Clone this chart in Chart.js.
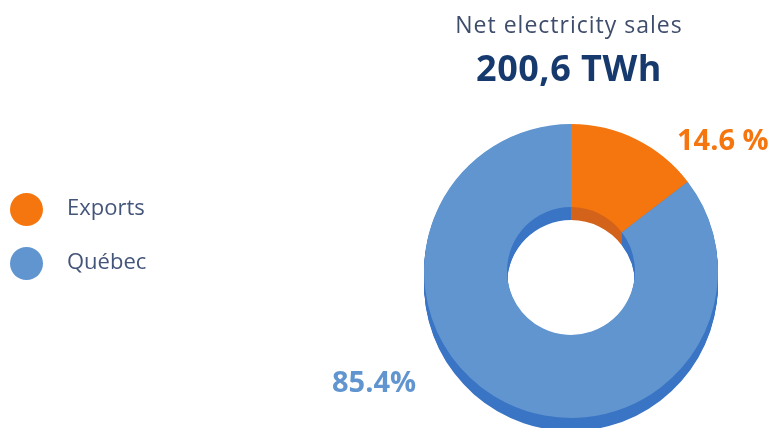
<!DOCTYPE html>
<html>
<head>
<meta charset="utf-8">
<script src="https://cdn.jsdelivr.net/npm/chart.js@4.4.1/dist/chart.umd.min.js"></script>
<style>
  html, body { margin: 0; padding: 0; background: #fff; }
  body { width: 771px; height: 428px; position: relative; overflow: hidden; font-family: 'Open Sans', sans-serif; }
  #sales { position: absolute; left: 0; top: 0; }
  .title { position: absolute; left: 369px; width: 400px; text-align: center; line-height: 1; white-space: nowrap; }
  #t1 { top: 13px; font-size: 23px; color: #3e4d6b; letter-spacing: 1px; }
  #t2 { top: 50px; font-size: 36px; font-weight: 700; color: #173a6e; letter-spacing: 0.5px; }
  .leg { position: absolute; left: 10px; height: 34px; }
  .leg i { position: absolute; left: 0; top: 0; width: 33px; height: 33px; border-radius: 50%; }
  .leg span { position: absolute; left: 57px; top: 2px; font-size: 22px; line-height: 1; color: #44557a; white-space: nowrap; }
</style>
</head>
<body>
<canvas id="sales" width="771" height="428"></canvas>
<div class="title" id="t1"></div>
<div class="title" id="t2"></div>
<div id="legend"></div>
<script>
// net electricity sales split
var titleText = 'Net electricity sales';
var totalText = '200,6 TWh';
var categories = ['Exports', 'Québec'];
var shares = [14.6, 85.4];
var pctSuffix = [' %', '%'];

var faceColors = ['#f5760f', '#6095cf'];
var sideColors = ['#d3631a', '#3a74c4'];

document.getElementById('t1').textContent = titleText;
document.getElementById('t2').textContent = totalText;

// legend, stacked on the left
var legendTops = [193, 247];
var legend = document.getElementById('legend');
categories.forEach(function (name, i) {
  var row = document.createElement('div');
  row.className = 'leg';
  row.style.top = legendTops[i] + 'px';
  row.innerHTML = '<i style="background:' + faceColors[i] + '"></i><span></span>';
  row.querySelector('span').textContent = name;
  legend.appendChild(row);
});

// fake 3D: repeat each arc a few px lower in a darker shade before the face is drawn
var extrude = {
  id: 'extrude',
  beforeDatasetsDraw: function (chart, args, opts) {
    var ctx = chart.ctx;
    var arcs = chart.getDatasetMeta(0).data;
    ctx.save();
    arcs.forEach(function (arc, i) {
      var p = arc.getProps(['x', 'y', 'startAngle', 'endAngle', 'innerRadius', 'outerRadius'], true);
      ctx.fillStyle = sideColors[i];
      for (var d = 1; d <= opts.depth; d++) {
        ctx.beginPath();
        ctx.arc(p.x, p.y + d, p.outerRadius, p.startAngle, p.endAngle);
        ctx.arc(p.x, p.y + d, p.innerRadius, p.endAngle, p.startAngle, true);
        ctx.closePath();
        ctx.fill();
      }
    });
    ctx.restore();
  }
};

// percentage labels, placed relative to the doughnut centre
var pctLabels = {
  id: 'pctLabels',
  afterDatasetsDraw: function (chart, args, opts) {
    var ctx = chart.ctx;
    var arcs = chart.getDatasetMeta(0).data;
    ctx.save();
    ctx.font = '700 ' + opts.size + 'px "Open Sans", sans-serif';
    ctx.textBaseline = 'alphabetic';
    ctx.textAlign = 'left';
    arcs.forEach(function (arc, i) {
      var p = arc.getProps(['x', 'y'], true);
      var o = opts.offsets[i];
      ctx.fillStyle = faceColors[i];
      ctx.fillText(shares[i].toFixed(1) + pctSuffix[i], p.x + o[0], p.y + o[1]);
    });
    ctx.restore();
  }
};

new Chart(document.getElementById('sales'), {
  type: 'doughnut',
  data: {
    labels: categories,
    datasets: [{ data: shares, backgroundColor: faceColors, borderWidth: 0, hoverOffset: 0 }]
  },
  options: {
    responsive: false,
    animation: false,
    events: [],
    cutout: '43.5%',
    layout: { padding: { left: 371, top: 124, right: 0, bottom: 10 } },
    plugins: {
      legend: { display: false },
      tooltip: { enabled: false },
      extrude: { depth: 13 },
      pctLabels: { size: 29, offsets: [[106, -121], [-239, 121]] }
    }
  },
  plugins: [extrude, pctLabels]
});
</script>
</body>
</html>
